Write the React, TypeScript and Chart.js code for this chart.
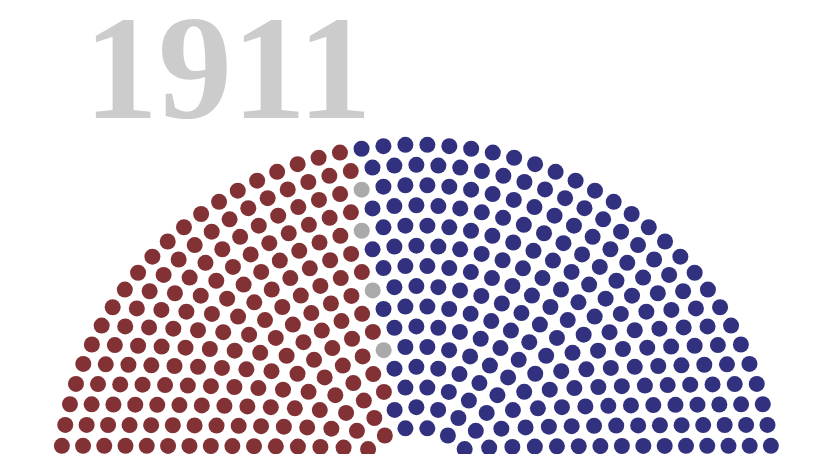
import React, { useEffect, useRef } from "react";
import { Chart, registerables } from "chart.js";

Chart.register(...registerables);

// ---- data ----
const YEAR_LABEL = "1911";
const PARTY_NAMES = ["Republican", "Other", "Democratic"];
const PARTY_SEATS = [209, 4, 252];
const PARTY_COLORS = ["#823235", "#aaaaaa", "#31317f"];

// ---- layout settings of the hemicycle (in axis units) ----
const ROW_COUNT = 15;
const INNER_RADIUS = 3;
const X_RANGE = [-19.435, 18.876];
const Y_RANGE = [1.683, 23.767];

type Seat = { x: number; y: number };

function buildSeats(): Seat[][] {
  const total = PARTY_SEATS.reduce((a, b) => a + b, 0);
  const radii: number[] = [];
  for (let i = 0; i < ROW_COUNT; i++) radii.push(INNER_RADIUS + i);
  const sumR = radii.reduce((a, b) => a + b, 0);
  const perUnit = (total - ROW_COUNT) / sumR;
  const out: Seat[][] = PARTY_SEATS.map(() => []);
  const cum: number[] = [];
  let acc = 0;
  PARTY_SEATS.forEach((s) => {
    acc += s;
    cum.push(acc / total);
  });
  radii.forEach((r) => {
    const n = Math.round(r * perUnit) + 1;
    const gaps = n - 1;
    let start = 0;
    cum.forEach((c, p) => {
      const end = p === cum.length - 1 ? n : Math.floor(n * c);
      for (let k = start; k < end; k++) {
        const a = Math.PI - (k * Math.PI) / gaps;
        out[p].push({ x: r * Math.cos(a), y: r * Math.sin(a) });
      }
      start = end;
    });
  });
  return out;
}

const yearLabelPlugin = {
  id: "yearLabel",
  beforeDatasetsDraw(chart: any) {
    const ctx = chart.ctx;
    ctx.save();
    ctx.font = 'bold 148px "Liberation Serif", "Times New Roman", serif';
    ctx.fillStyle = "#cccccc";
    ctx.textAlign = "left";
    ctx.textBaseline = "alphabetic";
    ctx.fillText(YEAR_LABEL, 84, 118);
    ctx.restore();
  },
};

export default function App() {
  const ref = useRef<HTMLCanvasElement | null>(null);

  useEffect(() => {
    document.body.style.margin = "0";
    if (!ref.current) return;
    const seats = buildSeats();
    const chart = new Chart(ref.current, {
      type: "scatter",
      data: {
        datasets: PARTY_NAMES.map((name, i) => ({
          label: name,
          data: seats[i],
          backgroundColor: PARTY_COLORS[i],
          borderWidth: 0,
          pointRadius: 8,
          pointHoverRadius: 8,
        })),
      },
      options: {
        responsive: false,
        animation: false,
        layout: { padding: 0 },
        scales: {
          x: { type: "linear", min: X_RANGE[0], max: X_RANGE[1], display: false },
          y: { type: "linear", min: Y_RANGE[0], max: Y_RANGE[1], display: false },
        },
        plugins: {
          legend: { display: false },
          tooltip: { enabled: true },
        },
      },
      plugins: [yearLabelPlugin],
    });
    return () => chart.destroy();
  }, []);

  return (
    <div style={{ position: "absolute", left: 0, top: 0, width: 821, height: 462 }}>
      <canvas ref={ref} width={821} height={462} style={{ display: "block" }} />
    </div>
  );
}
